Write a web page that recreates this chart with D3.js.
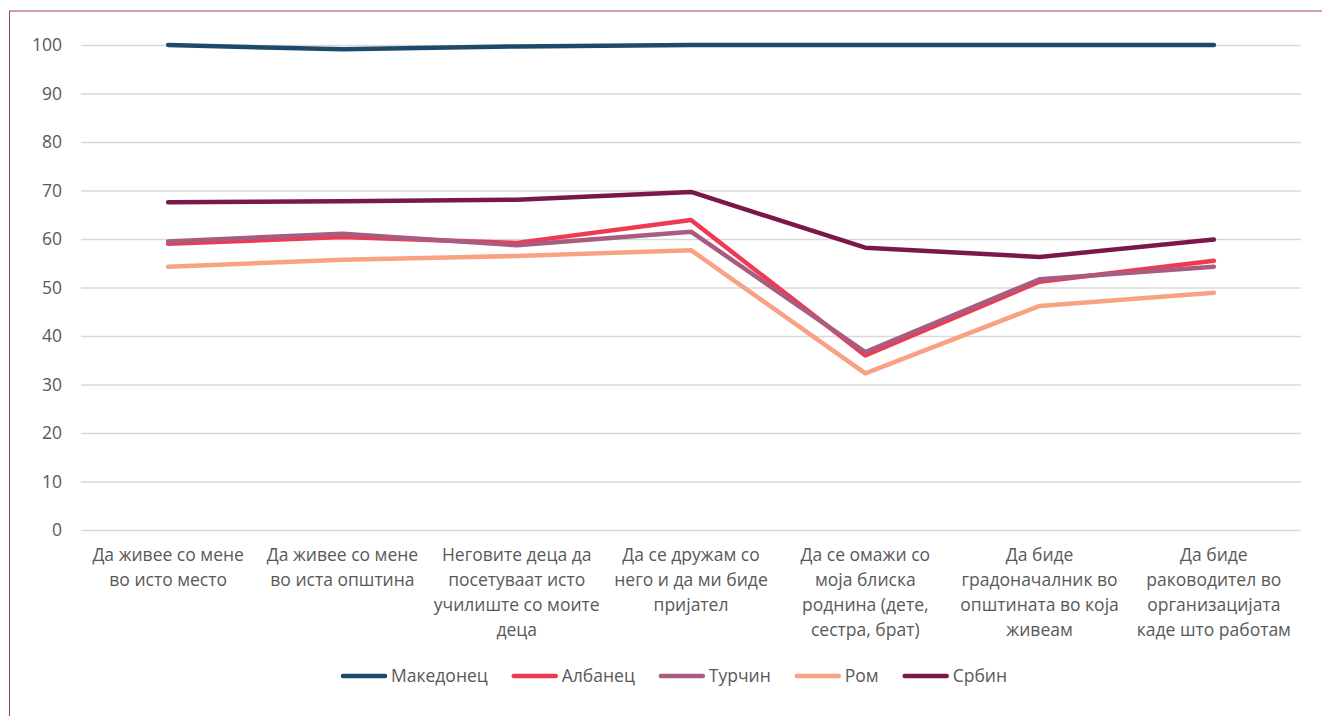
<!DOCTYPE html>
<html>
<head>
<meta charset="utf-8">
<script src="https://cdn.jsdelivr.net/npm/d3@7"></script>
<style>
    body { margin: 0; background: #fff; }
    text { font-family: "Open Sans", sans-serif; fill: #595959; }
</style>
</head>
<body>
<div id="chart"></div>
<script>
// Categories (x axis), one entry per line of the wrapped tick label
const categories = [
    ['Да живее со мене', 'во исто место'],
    ['Да живее со мене', 'во иста општина'],
    ['Неговите деца да', 'посетуваат исто', 'училиште со моите', 'деца'],
    ['Да се дружам со', 'него и да ми биде', 'пријател'],
    ['Да се омажи со', 'моја блиска', 'роднина (дете,', 'сестра, брат)'],
    ['Да биде', 'градоначалник во', 'општината во која', 'живеам'],
    ['Да биде', 'раководител во', 'организацијата', 'каде што работам']
];

const seriesNames = ['Македонец', 'Албанец', 'Турчин', 'Ром', 'Србин'];
const seriesColors = ['#1d4a6b', '#ee3a52', '#a85c80', '#f9a283', '#7b184a'];

const makedonec = [100, 99.1, 99.7, 100, 100, 100, 100];
const albanec   = [59.0, 60.4, 59.2, 63.9, 36.0, 51.2, 55.5];
const turchin   = [59.5, 61.1, 58.7, 61.5, 36.7, 51.7, 54.3];
const rom       = [54.3, 55.7, 56.5, 57.7, 32.3, 46.2, 48.9];
const srbin     = [67.6, 67.8, 68.1, 69.7, 58.2, 56.3, 59.9];

const yTicks = [0, 10, 20, 30, 40, 50, 60, 70, 80, 90, 100];

const seriesValues = [makedonec, albanec, turchin, rom, srbin];

// chart config
const cfg = {
    width: 1322, height: 716,
    plot: {left: 81, right: 1301, top: 45, bottom: 530},
    fontsize: 17.5,
    lineWidth: 4.5
};

const svg = d3.select('#chart').append('svg')
    .attr('width', cfg.width)
    .attr('height', cfg.height)
    .attr('viewBox', '0 0 ' + cfg.width + ' ' + cfg.height);

// chart frame (runs off the right/bottom of the picture)
svg.append('rect')
    .attr('x', 9.5).attr('y', 11)
    .attr('width', 1340).attr('height', 760)
    .attr('fill', 'none')
    .attr('stroke', '#9b3d6c')
    .attr('stroke-width', 1);

const keys = categories.map(function(c, i){ return i; });

const xScale = d3.scaleBand().domain(keys).range([cfg.plot.left, cfg.plot.right]);
const yScale = d3.scaleLinear().domain([0, 100]).range([cfg.plot.bottom, cfg.plot.top]);
const xMid = function(i){ return xScale(i) + xScale.bandwidth() / 2; };

// GRIDLINES + Y AXIS
const yAxis = svg.append('g')
    .attr('class', 'axis axis--y')
    .attr('transform', 'translate(' + cfg.plot.left + ',0)')
    .call(d3.axisLeft(yScale)
        .tickValues(yTicks)
        .tickSize(-(cfg.plot.right - cfg.plot.left))
        .tickPadding(19)
        .tickFormat(d3.format('d')));

yAxis.select('.domain').remove();
yAxis.selectAll('.tick line').attr('stroke', '#d9d9d9').attr('stroke-width', 1.3);
yAxis.selectAll('.tick text')
    .attr('font-size', cfg.fontsize + 'px')
    .attr('font-family', '"Open Sans", sans-serif')
    .attr('fill', '#595959');

// X LABELS
const xLabels = svg.append('g').attr('class', 'axis axis--x');
categories.forEach(function(lines, i){
    const t = xLabels.append('text')
        .attr('text-anchor', 'middle')
        .attr('font-size', cfg.fontsize + 'px');
    lines.forEach(function(l, j){
        t.append('tspan')
            .attr('x', xMid(i))
            .attr('y', cfg.plot.bottom + 31 + j * 25)
            .text(l);
    });
});

// LINES
const line = d3.line()
    .x(function(d, i){ return xMid(i); })
    .y(function(d){ return yScale(d); });

svg.append('g').attr('class', 'lines')
    .selectAll('path')
    .data(seriesValues)
    .enter().append('path')
    .attr('d', function(d){ return line(d); })
    .attr('fill', 'none')
    .attr('stroke', function(d, i){ return seriesColors[i]; })
    .attr('stroke-width', cfg.lineWidth)
    .attr('stroke-linecap', 'round')
    .attr('stroke-linejoin', 'round');

// LEGEND
const legend = svg.append('g').attr('class', 'legend');
const swatchW = 46, gapText = 4, gapItem = 24, legendY = 676;
let lx = 0;
seriesNames.forEach(function(name, i){
    const g = legend.append('g');
    g.append('line')
        .attr('x1', lx + 2).attr('x2', lx + swatchW - 2)
        .attr('y1', legendY).attr('y2', legendY)
        .attr('stroke', seriesColors[i])
        .attr('stroke-width', cfg.lineWidth)
        .attr('stroke-linecap', 'round');
    const t = g.append('text')
        .attr('x', lx + swatchW + gapText)
        .attr('y', legendY + 6)
        .attr('font-size', cfg.fontsize + 'px')
        .text(name);
    lx += swatchW + gapText + t.node().getComputedTextLength() + gapItem;
});
const legendW = lx - gapItem;
legend.attr('transform', 'translate(' + (674 - legendW / 2) + ',0)');
</script>
</body>
</html>
